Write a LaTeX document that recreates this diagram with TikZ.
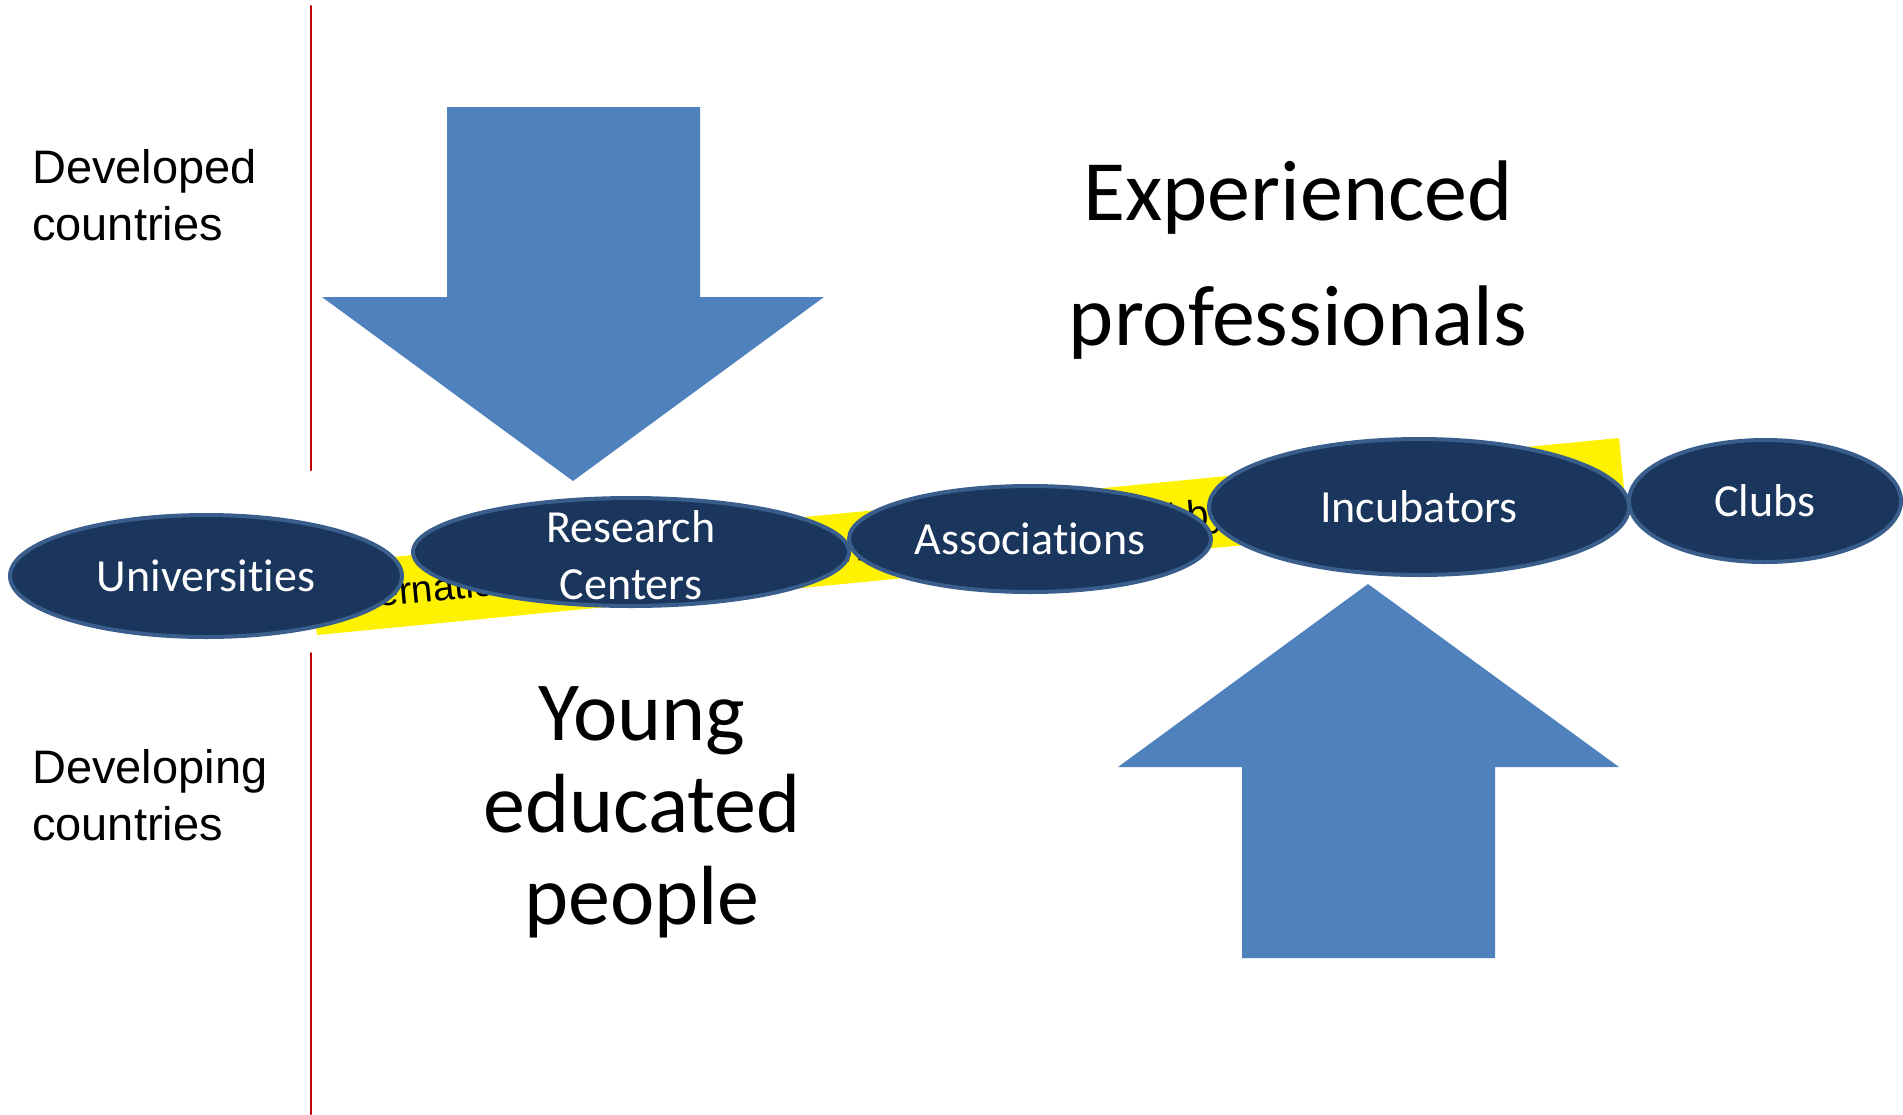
\documentclass[tikz,border=0pt]{standalone}
\usepackage{fontspec}
\setmainfont{Liberation Sans}
\newfontfamily\calibri[Ligatures=NoCommon]{Carlito}
\usetikzlibrary{shapes.geometric}
\definecolor{arrowblue}{RGB}{79,129,189}
\definecolor{ovalfill}{RGB}{27,54,93}
\definecolor{ovalline}{RGB}{58,94,140}
\definecolor{splitred}{RGB}{192,0,0}

\begin{document}
\begin{tikzpicture}[line cap=round,line join=round,x=1pt,y=-1pt,
  oval/.style={ellipse,fill=ovalfill,draw=ovalline,line width=4pt,inner sep=0pt},
  ovaltext/.style={text=white,inner sep=0pt,font=\calibri\fontsize{46}{57}\selectfont,align=center},
  bigtext/.style={inner sep=0pt,font=\calibri\fontsize{86}{125}\selectfont,align=center},
  sidetext/.style={inner sep=0pt,font=\fontsize{47}{57}\selectfont,align=left,anchor=north west}]
\useasboundingbox (0,0) rectangle (1903,1114);
\draw [splitred,line width=2pt] (311,6) -- (311,470);
\draw [splitred,line width=2pt] (311,653) -- (311,1114);
\node [sidetext] (developed) at (32,149) {Developed\\countries};
\node [sidetext] (developing) at (32,749) {Developing\\countries};
\fill [yellow] (317,635) -- (310,565) -- (1619,438) -- (1626,508) -- cycle;
\node [anchor=base west,rotate=5.5,inner sep=0pt,font=\fontsize{38.5}{38.5}\selectfont] (band) at (336,611) {International cooperation and networks supported by};
\fill [arrowblue] (447,107) -- (700,107) -- (700,297) -- (824,297) -- (573,481) -- (322,297) -- (447,297) -- cycle;
\fill [arrowblue] (1242,958) -- (1495,958) -- (1495,767) -- (1619,767) -- (1368,584) -- (1118,767) -- (1242,767) -- cycle;
\node [bigtext] (experienced) at (1298,260) {Experienced\\professionals};
\node [bigtext,font=\calibri\fontsize{84}{92}\selectfont] (young) at (642,812) {Young\\educated\\people};
\node [oval,minimum width=392pt,minimum height=122pt] (univ) at (206,576) {};
\node [ovaltext] (univtext) at (univ) {Universities};
\node [oval,minimum width=436pt,minimum height=108pt] (rescen) at (631,552) {};
\node [ovaltext] (rescentext) at (631,555) {Research\\Centers};
\node [oval,minimum width=362pt,minimum height=106pt] (assoc) at (1030,539) {};
\node [ovaltext] (assoctext) at (assoc) {Associations};
\node [oval,minimum width=420pt,minimum height=136pt] (incub) at (1419,507) {};
\node [ovaltext] (incubtext) at (incub) {Incubators};
\node [oval,minimum width=272pt,minimum height=122pt] (clubs) at (1765,501) {};
\node [ovaltext] (clubstext) at (clubs) {Clubs};
\end{tikzpicture}
\end{document}
